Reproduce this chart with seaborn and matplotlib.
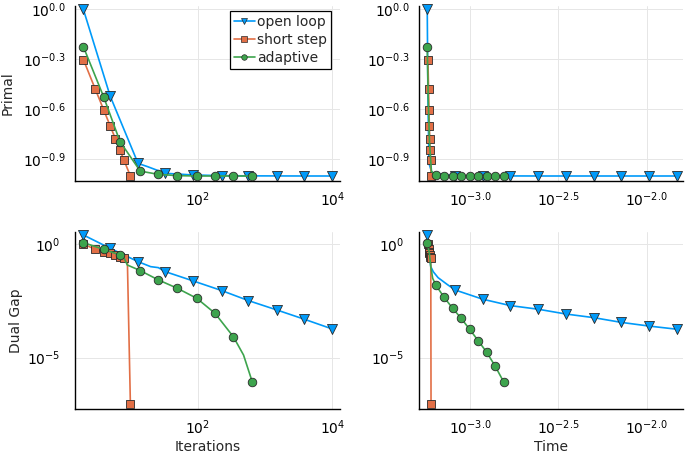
import matplotlib
matplotlib.use("Agg")
import matplotlib.pyplot as plt
from matplotlib.lines import Line2D
from matplotlib.ticker import FixedLocator, FixedFormatter, NullLocator
import seaborn as sns


# -----------------------------
# colours of the three step-size rules
c_open = "#009AF9"
c_short = "#E26F46"
c_adapt = "#3DA44D"

# -----------------------------
# open loop: marker positions (iterations / time) and values there
ol_it = [2, 5, 13, 33, 86, 228, 565, 1490, 3840, 10000]
ol_t = [5.73e-4, 8.22e-4, 1.18e-3, 1.69e-3, 2.43e-3, 3.49e-3, 5.01e-3, 7.19e-3, 1.03e-2, 1.48e-2]
ol_it_primal = [1.0, 0.302, 0.119, 0.1038, 0.1014, 0.1005, 0.1002, 0.1001, 0.1, 0.1]
ol_t_primal = [1.0, 0.1003, 0.1002, 0.1001, 0.1, 0.1, 0.1, 0.1, 0.1, 0.1]
ol_it_dual = [2.49, 0.646, 0.167, 0.0607, 0.0236, 0.00891, 0.00324, 0.00126, 0.00049, 0.000182]
ol_t_dual = [2.49, 0.00955, 0.00372, 0.00195, 0.00135, 0.00083, 0.000575, 0.000355, 0.000245, 0.000178]
# extra points of the open loop curves between markers
ol_it_primal_kx, ol_it_primal_ky = [18], [0.1138]
ol_it_dual_kx, ol_it_dual_ky = [20, 26], [0.1007, 0.0912]
ol_t_primal_kx, ol_t_primal_ky = [5.78e-4, 5.86e-4, 6.1e-4], [0.302, 0.119, 0.104]
ol_t_dual_kx, ol_t_dual_ky = [5.89e-4, 6.0e-4, 6.2e-4, 6.6e-4, 7.4e-4], [0.389, 0.1007, 0.06, 0.033, 0.017]

# short step: every iteration (marker skipped at iteration 9)
ss_it = [2, 3, 4, 5, 6, 7, 8, 9, 10]
ss_t = [5.78e-4, 5.83e-4, 5.86e-4, 5.89e-4, 5.92e-4, 5.95e-4, 5.98e-4, 6.0e-4, 6.02e-4]
ss_primal = [0.5, 0.333, 0.25, 0.2, 0.167, 0.143, 0.125, 0.111, 0.1]
ss_dual = [1.0, 0.582, 0.457, 0.389, 0.328, 0.277, 0.251, 0.24, 8.9e-8]
ss_marked = [0, 1, 2, 3, 4, 5, 6, 8]

# adaptive
ad_it = [2, 4, 7, 14, 26, 50, 97, 181, 339, 646]
ad_t = [5.73e-4, 6.40e-4, 7.14e-4, 7.98e-4, 8.91e-4, 9.95e-4, 1.112e-3, 1.242e-3, 1.387e-3, 1.549e-3]
ad_it_primal = [0.597, 0.299, 0.161, 0.107, 0.1023, 0.1005, 0.1, 0.1, 0.1, 0.1]
ad_t_primal = [0.597, 0.1007, 0.1002, 0.1001, 0.1, 0.1, 0.1, 0.1, 0.1, 0.1]
ad_it_dual = [1.148, 0.582, 0.328, 0.0676, 0.0263, 0.0112, 0.00407, 0.000891, 8.3e-5, 8.7e-7]
ad_t_dual = [1.148, 0.0158, 0.00447, 0.00148, 0.000537, 0.000178, 5.6e-5, 1.74e-5, 4.27e-6, 8.7e-7]
ad_it_dual_kx, ad_it_dual_ky = [8, 9, 480], [0.251, 0.119, 1.3e-5]
ad_t_primal_kx, ad_t_primal_ky = [5.80e-4, 5.9e-4, 6.05e-4], [0.3, 0.16, 0.107]
ad_t_dual_kx, ad_t_dual_ky = [5.89e-4, 6.0e-4, 6.15e-4], [0.389, 0.1007, 0.031]

labels = ["open loop", "short step", "adaptive"]

# axis ticks
iter_ticks, iter_labels = [1e2, 1e4], [r"$10^{2}$", r"$10^{4}$"]
time_ticks = [1e-3, 10 ** -2.5, 1e-2]
time_labels = [r"$10^{-3.0}$", r"$10^{-2.5}$", r"$10^{-2.0}$"]
primal_ticks = [1.0, 10 ** -0.3, 10 ** -0.6, 10 ** -0.9]
primal_labels = [r"$10^{0.0}$", r"$10^{-0.3}$", r"$10^{-0.6}$", r"$10^{-0.9}$"]
dual_ticks, dual_labels = [1.0, 1e-5], [r"$10^{0}$", r"$10^{-5}$"]

fs = 10


def merge(mx, my, kx, ky):
    pts = sorted(zip(list(mx) + list(kx), list(my) + list(ky)))
    return [p[0] for p in pts], [p[1] for p in pts]


def draw(ax, lx, ly, mx, my, color, marker, size, z):
    sns.lineplot(x=lx, y=ly, ax=ax, color=color, linewidth=1.2,
                 estimator=None, sort=False, zorder=z)
    sns.scatterplot(x=mx, y=my, ax=ax, color=color, marker=marker, s=size,
                    edgecolor="#2a2a2a", linewidth=0.6, zorder=z + 0.5,
                    legend=False, clip_on=False)


def style(ax, xlim, ylim, xt, xl, yt, yl, ypad):
    ax.set_xlim(xlim)
    ax.set_ylim(ylim)
    ax.xaxis.set_major_locator(FixedLocator(xt))
    ax.xaxis.set_major_formatter(FixedFormatter(xl))
    ax.yaxis.set_major_locator(FixedLocator(yt))
    ax.yaxis.set_major_formatter(FixedFormatter(yl))
    ax.xaxis.set_minor_locator(NullLocator())
    ax.yaxis.set_minor_locator(NullLocator())
    ax.set_axisbelow(True)
    ax.grid(True, color="#e6e6e6", linewidth=0.7)
    for s in ["top", "right"]:
        ax.spines[s].set_visible(False)
    for s in ["left", "bottom"]:
        ax.spines[s].set_color("black")
        ax.spines[s].set_linewidth(1.0)
    ax.tick_params(axis="both", direction="in", length=3, width=0.8, labelsize=fs,
                   colors="black")
    ax.tick_params(axis="x", pad=7)
    ax.tick_params(axis="y", pad=ypad)


sns.set_style("white")
plt.rcParams["font.family"] = ["DejaVu Sans"]
plt.rcParams["mathtext.fontset"] = "dejavusans"

fig = plt.figure(figsize=(6.85, 4.53), dpi=100)
ax_pi = fig.add_axes([0.1102, 0.6004, 0.3861, 0.3863])
ax_pt = fig.add_axes([0.6124, 0.6004, 0.3847, 0.3863])
ax_di = fig.add_axes([0.1102, 0.0971, 0.3861, 0.3914])
ax_dt = fig.add_axes([0.6124, 0.0971, 0.3847, 0.3914])
for ax in [ax_pi, ax_pt, ax_di, ax_dt]:
    ax.set_xscale("log")
    ax.set_yscale("log")

ss_it_m = [ss_it[i] for i in ss_marked]
ss_t_m = [ss_t[i] for i in ss_marked]
ss_primal_m = [ss_primal[i] for i in ss_marked]
ss_dual_m = [ss_dual[i] for i in ss_marked]

# primal vs iterations
lx, ly = merge(ol_it, ol_it_primal, ol_it_primal_kx, ol_it_primal_ky)
draw(ax_pi, lx, ly, ol_it, ol_it_primal, c_open, "v", 52, 2)
draw(ax_pi, ss_it, ss_primal, ss_it_m, ss_primal_m, c_short, "s", 38, 3)
draw(ax_pi, ad_it, ad_it_primal, ad_it, ad_it_primal, c_adapt, "o", 38, 4)

# primal vs time
lx, ly = merge(ol_t, ol_t_primal, ol_t_primal_kx, ol_t_primal_ky)
draw(ax_pt, lx, ly, ol_t, ol_t_primal, c_open, "v", 52, 2)
draw(ax_pt, ss_t, ss_primal, ss_t_m, ss_primal_m, c_short, "s", 38, 3)
lx, ly = merge(ad_t, ad_t_primal, ad_t_primal_kx, ad_t_primal_ky)
draw(ax_pt, lx, ly, ad_t, ad_t_primal, c_adapt, "o", 38, 4)

# dual gap vs iterations
lx, ly = merge(ol_it, ol_it_dual, ol_it_dual_kx, ol_it_dual_ky)
draw(ax_di, lx, ly, ol_it, ol_it_dual, c_open, "v", 52, 2)
draw(ax_di, ss_it, ss_dual, ss_it_m, ss_dual_m, c_short, "s", 38, 3)
lx, ly = merge(ad_it, ad_it_dual, ad_it_dual_kx, ad_it_dual_ky)
draw(ax_di, lx, ly, ad_it, ad_it_dual, c_adapt, "o", 38, 4)

# dual gap vs time
lx, ly = merge(ol_t, ol_t_dual, ol_t_dual_kx, ol_t_dual_ky)
draw(ax_dt, lx, ly, ol_t, ol_t_dual, c_open, "v", 52, 2)
draw(ax_dt, ss_t, ss_dual, ss_t_m, ss_dual_m, c_short, "s", 38, 3)
lx, ly = merge(ad_t, ad_t_dual, ad_t_dual_kx, ad_t_dual_ky)
draw(ax_dt, lx, ly, ad_t, ad_t_dual, c_adapt, "o", 38, 4)

it_lim = (1.528, 13000)
t_lim = (5.18e-4, 1.603e-2)
p_lim = (0.0933, 1.047)
d_lim = (5.5e-8, 3.467)
style(ax_pi, it_lim, p_lim, iter_ticks, iter_labels, primal_ticks, primal_labels, 7)
style(ax_pt, t_lim, p_lim, time_ticks, time_labels, primal_ticks, primal_labels, 7)
style(ax_di, it_lim, d_lim, iter_ticks, iter_labels, dual_ticks, dual_labels, 11)
style(ax_dt, t_lim, d_lim, time_ticks, time_labels, dual_ticks, dual_labels, 11)

ax_pi.set_ylabel("Primal", fontsize=fs)
ax_pi.yaxis.set_label_coords(-0.231, 0.5)
ax_di.set_ylabel("Dual Gap", fontsize=fs)
ax_di.yaxis.set_label_coords(-0.198, 0.5)
ax_di.set_xlabel("Iterations", fontsize=fs)
ax_di.xaxis.set_label_coords(0.5, -0.175)
ax_dt.set_xlabel("Time", fontsize=fs)
ax_dt.xaxis.set_label_coords(0.5, -0.175)

handles = [
    Line2D([], [], color=c_open, lw=1.2, marker="v", markersize=4.5,
           markeredgecolor="#2a2a2a", markeredgewidth=0.5),
    Line2D([], [], color=c_short, lw=1.2, marker="s", markersize=4,
           markeredgecolor="#2a2a2a", markeredgewidth=0.5),
    Line2D([], [], color=c_adapt, lw=1.2, marker="o", markersize=4,
           markeredgecolor="#2a2a2a", markeredgewidth=0.5),
]
leg = ax_pi.legend(handles, labels, loc="upper right", bbox_to_anchor=(0.966, 0.973),
                   borderaxespad=0, fontsize=fs, frameon=True, fancybox=False,
                   edgecolor="black", framealpha=1, handlelength=1.5,
                   handletextpad=0.15, labelspacing=0.3, borderpad=0.3)
leg.get_frame().set_linewidth(0.9)

fig.savefig("out.png", dpi=100)
